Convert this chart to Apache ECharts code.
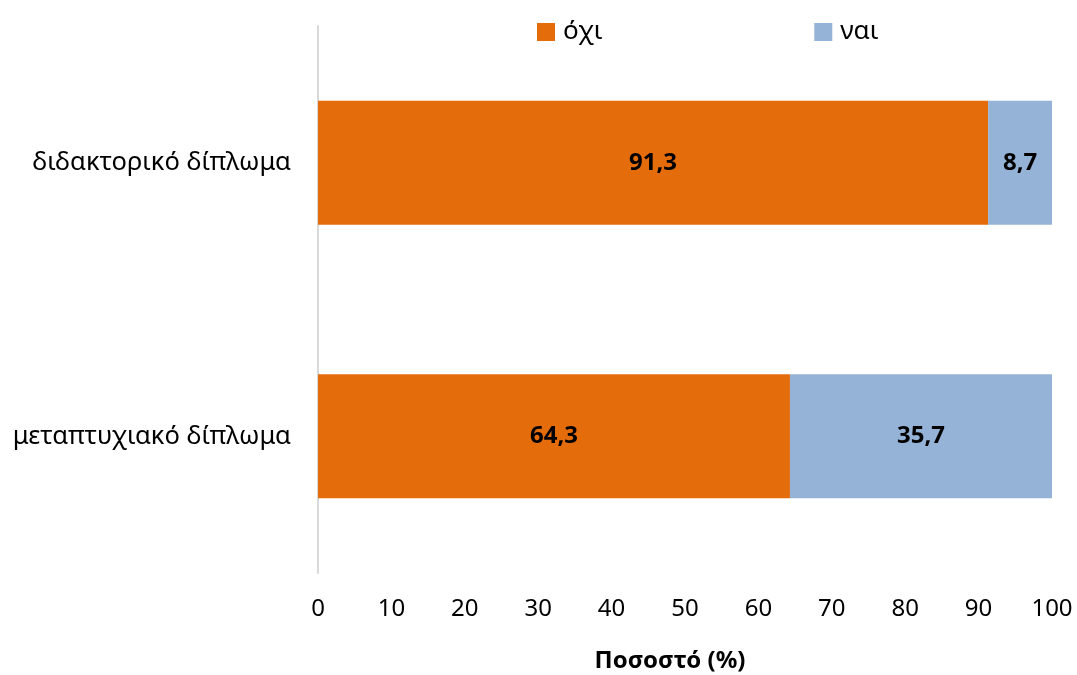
<!DOCTYPE html>
<html><head><meta charset="utf-8">
<script src="https://cdn.jsdelivr.net/npm/echarts@6/dist/echarts.min.js"></script>
<style>html,body{margin:0;padding:0;background:#fff}#c{width:1077px;height:675px}</style>
</head><body><div id="c"></div>
<script>
const categories = ['μεταπτυχιακό δίπλωμα', 'διδακτορικό δίπλωμα'];
const seriesNames = ['όχι', 'ναι'];
const valuesNo = [64.3, 91.3];
const valuesYes = [35.7, 8.7];
const axisTitle = 'Ποσοστό (%)';

const FONT = 'Noto Sans';
const chart = echarts.init(document.getElementById('c'));
const labelFmt = p => String(p.value.toFixed(1)).replace('.', ',');
chart.setOption({
  animation: false,
  textStyle: { fontFamily: FONT },
  legend: {
    left: 532, top: 14, itemWidth: 18, itemHeight: 18, itemGap: 212,
    icon: 'rect',
    textStyle: { fontFamily: FONT, fontSize: 26, color: '#000', padding: [0, 0, 0, 3] },
    data: seriesNames
  },
  grid: { left: 318, right: 25, top: 26, bottom: 102, containLabel: false, outerBoundsMode: 'none' },
  xAxis: {
    type: 'value', min: 0, max: 100, interval: 10,
    axisLine: { show: false }, axisTick: { show: false }, splitLine: { show: false },
    axisLabel: { fontFamily: FONT, fontSize: 24, color: '#000', margin: 24 },
    name: axisTitle, nameLocation: 'middle', nameGap: 76,
    nameTextStyle: { fontFamily: FONT, fontSize: 24, fontWeight: 'bold', color: '#000', padding: [0, 30, 0, 0] }
  },
  yAxis: {
    type: 'category', data: categories,
    axisLine: { show: true, lineStyle: { color: '#d9d9d9', width: 2 } },
    axisTick: { show: false },
    axisLabel: { fontFamily: FONT, fontSize: 25.5, color: '#000', margin: 27 }
  },
  series: [
    { name: seriesNames[0], type: 'bar', stack: 't', data: valuesNo, barWidth: 124,
      itemStyle: { color: '#E46C0A' },
      label: { show: true, position: 'inside', formatter: labelFmt, fontFamily: FONT, fontSize: 24, fontWeight: 'bold', color: '#000', padding: [3, 0, 0, 0] } },
    { name: seriesNames[1], type: 'bar', stack: 't', data: valuesYes, barWidth: 124,
      itemStyle: { color: '#95B3D7' },
      label: { show: true, position: 'inside', formatter: labelFmt, fontFamily: FONT, fontSize: 24, fontWeight: 'bold', color: '#000', padding: [3, 0, 0, 0] } }
  ]
});
</script></body></html>
